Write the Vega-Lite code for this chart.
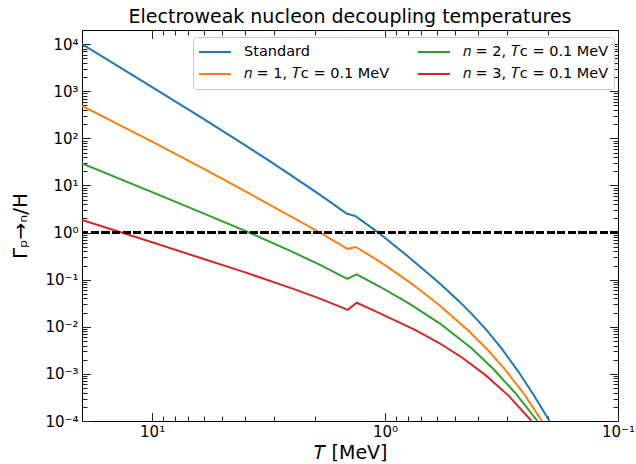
{
  "$schema": "https://vega.github.io/schema/vega-lite/v6.json",
  "width": 536,
  "height": 391,
  "autosize": {"type": "none"},
  "padding": {"left": 82, "top": 30, "right": 18, "bottom": 43},
  "config": {
    "font": "DejaVu Sans",
    "view": {"stroke": "black", "strokeWidth": 1},
    "axis": {"grid": false, "domain": false, "tickColor": "#222", "tickWidth": 1, "labelFontSize": 15, "labelColor": "black", "labelOverlap": false, "labelFlush": false, "labelBound": false, "titleFontWeight": "normal", "titleFontSize": 20, "titleColor": "black"}
  },
  "title": {"text": "Electroweak nucleon decoupling temperatures", "fontSize": 19, "fontWeight": "normal", "anchor": "middle", "offset": 3, "color": "black"},
  "data": {"values": [
    {"series": "Standard", "T": 20, "G": 10000},
    {"series": "Standard", "T": 10, "G": 1225},
    {"series": "Standard", "T": 6.310, "G": 299.2},
    {"series": "Standard", "T": 4.335, "G": 93.3},
    {"series": "Standard", "T": 3.162, "G": 34.04},
    {"series": "Standard", "T": 2.512, "G": 16.03},
    {"series": "Standard", "T": 1.901, "G": 6.34},
    {"series": "Standard", "T": 1.462, "G": 2.54},
    {"series": "Standard", "T": 1.334, "G": 2.213},
    {"series": "Standard", "T": 1.069, "G": 1.0},
    {"series": "Standard", "T": 0.794, "G": 0.3076},
    {"series": "Standard", "T": 0.590, "G": 0.0883},
    {"series": "Standard", "T": 0.484, "G": 0.0359},
    {"series": "Standard", "T": 0.4217, "G": 0.01811},
    {"series": "Standard", "T": 0.368, "G": 0.00869},
    {"series": "Standard", "T": 0.3162, "G": 0.003467},
    {"series": "Standard", "T": 0.2679, "G": 0.001122},
    {"series": "Standard", "T": 0.2291, "G": 0.000344},
    {"series": "Standard", "T": 0.1968, "G": 0.0001},
    {"series": "n = 1, Tc = 0.1 MeV", "T": 20, "G": 489.8},
    {"series": "n = 1, Tc = 0.1 MeV", "T": 10, "G": 85.3},
    {"series": "n = 1, Tc = 0.1 MeV", "T": 6.310, "G": 25.76},
    {"series": "n = 1, Tc = 0.1 MeV", "T": 4.198, "G": 8.71},
    {"series": "n = 1, Tc = 0.1 MeV", "T": 2.780, "G": 2.838},
    {"series": "n = 1, Tc = 0.1 MeV", "T": 1.901, "G": 1.0},
    {"series": "n = 1, Tc = 0.1 MeV", "T": 1.452, "G": 0.4519},
    {"series": "n = 1, Tc = 0.1 MeV", "T": 1.334, "G": 0.4955},
    {"series": "n = 1, Tc = 0.1 MeV", "T": 1.051, "G": 0.2388},
    {"series": "n = 1, Tc = 0.1 MeV", "T": 0.851, "G": 0.1178},
    {"series": "n = 1, Tc = 0.1 MeV", "T": 0.708, "G": 0.0603},
    {"series": "n = 1, Tc = 0.1 MeV", "T": 0.581, "G": 0.02786},
    {"series": "n = 1, Tc = 0.1 MeV", "T": 0.4385, "G": 0.0082},
    {"series": "n = 1, Tc = 0.1 MeV", "T": 0.3631, "G": 0.00325},
    {"series": "n = 1, Tc = 0.1 MeV", "T": 0.3048, "G": 0.001219},
    {"series": "n = 1, Tc = 0.1 MeV", "T": 0.2512, "G": 0.000353},
    {"series": "n = 1, Tc = 0.1 MeV", "T": 0.2123, "G": 0.0001},
    {"series": "n = 2, Tc = 0.1 MeV", "T": 20, "G": 29.51},
    {"series": "n = 2, Tc = 0.1 MeV", "T": 10, "G": 7.228},
    {"series": "n = 2, Tc = 0.1 MeV", "T": 6.237, "G": 2.748},
    {"series": "n = 2, Tc = 0.1 MeV", "T": 3.828, "G": 1.0},
    {"series": "n = 2, Tc = 0.1 MeV", "T": 2.512, "G": 0.3954},
    {"series": "n = 2, Tc = 0.1 MeV", "T": 1.901, "G": 0.2056},
    {"series": "n = 2, Tc = 0.1 MeV", "T": 1.452, "G": 0.1035},
    {"series": "n = 2, Tc = 0.1 MeV", "T": 1.324, "G": 0.1291},
    {"series": "n = 2, Tc = 0.1 MeV", "T": 1.051, "G": 0.0708},
    {"series": "n = 2, Tc = 0.1 MeV", "T": 0.794, "G": 0.0319},
    {"series": "n = 2, Tc = 0.1 MeV", "T": 0.5808, "G": 0.01172},
    {"series": "n = 2, Tc = 0.1 MeV", "T": 0.4266, "G": 0.003548},
    {"series": "n = 2, Tc = 0.1 MeV", "T": 0.3436, "G": 0.001288},
    {"series": "n = 2, Tc = 0.1 MeV", "T": 0.2754, "G": 0.000389},
    {"series": "n = 2, Tc = 0.1 MeV", "T": 0.2218, "G": 0.0001},
    {"series": "n = 3, Tc = 0.1 MeV", "T": 20, "G": 1.862},
    {"series": "n = 3, Tc = 0.1 MeV", "T": 10, "G": 0.6223},
    {"series": "n = 3, Tc = 0.1 MeV", "T": 6.237, "G": 0.2924},
    {"series": "n = 3, Tc = 0.1 MeV", "T": 3.981, "G": 0.1429},
    {"series": "n = 3, Tc = 0.1 MeV", "T": 2.512, "G": 0.0653},
    {"series": "n = 3, Tc = 0.1 MeV", "T": 1.901, "G": 0.03954},
    {"series": "n = 3, Tc = 0.1 MeV", "T": 1.445, "G": 0.02286},
    {"series": "n = 3, Tc = 0.1 MeV", "T": 1.324, "G": 0.03236},
    {"series": "n = 3, Tc = 0.1 MeV", "T": 1.051, "G": 0.01932},
    {"series": "n = 3, Tc = 0.1 MeV", "T": 0.7362, "G": 0.008375},
    {"series": "n = 3, Tc = 0.1 MeV", "T": 0.5808, "G": 0.004416},
    {"series": "n = 3, Tc = 0.1 MeV", "T": 0.4677, "G": 0.002234},
    {"series": "n = 3, Tc = 0.1 MeV", "T": 0.3715, "G": 0.000953},
    {"series": "n = 3, Tc = 0.1 MeV", "T": 0.2951, "G": 0.000346},
    {"series": "n = 3, Tc = 0.1 MeV", "T": 0.2350, "G": 0.0001}
  ]},
  "layer": [
    {
      "mark": {"type": "line", "strokeWidth": 2, "clip": true},
      "encoding": {
        "x": {"field": "T", "type": "quantitative",
          "scale": {"type": "log", "domain": [0.1, 20], "reverse": true, "nice": false},
          "axis": {"orient": "bottom",
            "values": [0.1,0.2,0.3,0.4,0.5,0.6,0.7,0.8,0.9,1,2,3,4,5,6,7,8,9,10],
            "tickSize": {"condition": {"test": "abs(log(datum.value)/LN10 - round(log(datum.value)/LN10)) < 0.001", "value": -8.5}, "value": -5},
            "labelExpr": "abs(log(datum.value)/LN10 - round(log(datum.value)/LN10)) < 0.001 ? '10' + (datum.value < 0.5 ? '⁻' : '') + substring('⁰¹²³⁴⁵⁶⁷⁸⁹', abs(round(log(datum.value)/LN10)), abs(round(log(datum.value)/LN10)) + 1) : ''",
            "labelPadding": 11.5,
            "title": "𝑇 [MeV]",
            "titleFontSize": 19,
            "titlePadding": 1}},
        "y": {"field": "G", "type": "quantitative",
          "scale": {"type": "log", "domain": [0.0001, 20000], "nice": false},
          "axis": {"orient": "left",
            "values": [0.0001,0.0002,0.0003,0.0004,0.0005,0.0006,0.0007,0.0008,0.0009,0.001,0.002,0.003,0.004,0.005,0.006,0.007,0.008,0.009,0.01,0.02,0.03,0.04,0.05,0.06,0.07,0.08,0.09,0.1,0.2,0.3,0.4,0.5,0.6,0.7,0.8,0.9,1,2,3,4,5,6,7,8,9,10,20,30,40,50,60,70,80,90,100,200,300,400,500,600,700,800,900,1000,2000,3000,4000,5000,6000,7000,8000,9000,10000],
            "tickSize": {"condition": {"test": "abs(log(datum.value)/LN10 - round(log(datum.value)/LN10)) < 0.001", "value": -8.5}, "value": -5},
            "labelExpr": "abs(log(datum.value)/LN10 - round(log(datum.value)/LN10)) < 0.001 ? '10' + (datum.value < 0.5 ? '⁻' : '') + substring('⁰¹²³⁴⁵⁶⁷⁸⁹', abs(round(log(datum.value)/LN10)), abs(round(log(datum.value)/LN10)) + 1) : ''",
            "labelPadding": 12.5,
            "title": "Γₚ→ₙ/H",
            "titlePadding": 14}},
        "color": {"field": "series", "type": "nominal",
          "scale": {"domain": ["Standard", "n = 1, Tc = 0.1 MeV", "n = 2, Tc = 0.1 MeV", "n = 3, Tc = 0.1 MeV"],
                    "range": ["#1f77b4", "#ff7f0e", "#2ca02c", "#d62728"]},
          "legend": {"title": null, "orient": "none", "legendX": 111, "legendY": 7, "columns": 2, "columnPadding": 27, "rowPadding": 2, "clipHeight": 20, "symbolType": "stroke", "symbolSize": 1024, "symbolStrokeWidth": 2, "labelFontSize": 14.5, "labelOffset": 12, "labelColor": "black", "padding": 5, "fillColor": "rgba(255,255,255,0.8)", "strokeColor": "#cccccc", "cornerRadius": 3,
            "labelExpr": "replace(replace(datum.label, 'n =', '𝑛 ='), 'Tc', '𝑇c')"}},
        "order": {"field": "T", "type": "quantitative", "sort": "descending"}
      }
    },
    {
      "mark": {"type": "rule", "strokeDash": [7.4, 3.2], "strokeWidth": 2, "color": "black"},
      "encoding": {"y": {"datum": 1, "type": "quantitative", "axis": null}}
    },
    {
      "mark": {"type": "point", "opacity": 0},
      "encoding": {
        "x": {"field": "T", "type": "quantitative",
          "axis": {"orient": "top", "labels": false, "title": null,
            "values": [0.1,0.2,0.3,0.4,0.5,0.6,0.7,0.8,0.9,1,2,3,4,5,6,7,8,9,10],
            "tickSize": {"condition": {"test": "abs(log(datum.value)/LN10 - round(log(datum.value)/LN10)) < 0.001", "value": -8.5}, "value": -5}}},
        "y": {"field": "G", "type": "quantitative",
          "axis": {"orient": "right", "labels": false, "title": null,
            "values": [0.0001,0.0002,0.0003,0.0004,0.0005,0.0006,0.0007,0.0008,0.0009,0.001,0.002,0.003,0.004,0.005,0.006,0.007,0.008,0.009,0.01,0.02,0.03,0.04,0.05,0.06,0.07,0.08,0.09,0.1,0.2,0.3,0.4,0.5,0.6,0.7,0.8,0.9,1,2,3,4,5,6,7,8,9,10,20,30,40,50,60,70,80,90,100,200,300,400,500,600,700,800,900,1000,2000,3000,4000,5000,6000,7000,8000,9000,10000],
            "tickSize": {"condition": {"test": "abs(log(datum.value)/LN10 - round(log(datum.value)/LN10)) < 0.001", "value": -8.5}, "value": -5}}}
      }
    }
  ],
  "resolve": {"axis": {"x": "independent", "y": "independent"}}
}
